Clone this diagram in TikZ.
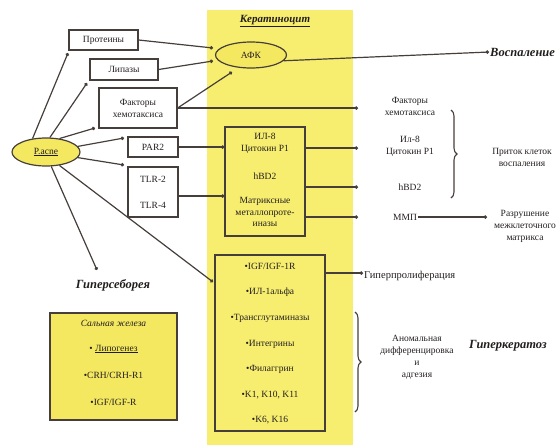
\documentclass[tikz,border=0pt]{standalone}
\usepackage{fontspec}
\setmainfont{Liberation Serif}
\usetikzlibrary{arrows.meta,decorations.pathreplacing,shapes.geometric}
\definecolor{colY}{RGB}{247,238,112}
\definecolor{colE}{RGB}{244,232,96}
\definecolor{colL}{RGB}{70,62,58}
\definecolor{colT}{RGB}{35,30,30}
\begin{document}
\begin{tikzpicture}[x=1pt,y=-1pt,
  font=\fontsize{9.5}{12}\selectfont, text=colT,
  line/.style={draw=colL, line width=1.2pt},
  arr/.style={line, -{Circle[length=3.4pt]}},
  box/.style={draw=colL, line width=1.2pt, inner sep=0pt, align=center},
  ell/.style={ellipse, draw=colL, line width=1.2pt, fill=colE, inner sep=0pt},
  lbl/.style={align=center, inner sep=1pt},
  ttl/.style={font=\fontsize{12.5}{14}\selectfont\bfseries\itshape, inner sep=1pt},
  brc/.style={draw=colL, line width=1.1pt, decorate, decoration={brace, amplitude=6pt}}
]
\useasboundingbox (0,0) rectangle (558,445);
\fill[colY] (207,10) rectangle (353,445);
\node[ttl, font=\fontsize{11}{13}\selectfont\bfseries\itshape] (kerat) at (275,21) {\underline{Кератиноцит}};

% left boxes
\node[box, minimum width=69pt, minimum height=20pt] (prot) at (103.5,40) {Протеины};
\node[box, minimum width=68pt, minimum height=21pt] (lip) at (124,69.5) {Липазы};
\node[box, minimum width=78pt, minimum height=40pt] (fakt) at (138,108) {Факторы\\хемотаксиса};
\node[box, minimum width=50pt, minimum height=20pt] (par) at (153,147) {PAR2};
\node[box, minimum width=50pt, minimum height=50pt] (tlr) at (153,192) {TLR-2\\[14pt]TLR-4};

\node[ell, minimum width=68pt, minimum height=28pt] (pacne) at (46,152) {\underline{P.acne}};
\node[ell, minimum width=71pt, minimum height=26pt] (afk) at (251,55) {АФК};

% keratinocyte boxes
\node[box, minimum width=80pt, minimum height=109pt] (il8) at (265,181.5) {};
\node[lbl] (il8t) at (265,143) {ИЛ-8\\Цитокин Р1};
\node[lbl] (hbd) at (265,176) {hBD2};
\node[lbl, font=\fontsize{9.5}{11.5}\selectfont] (mmpt) at (265,212) {Матриксные\\металлопроте-\\иназы};

\node[box, minimum width=110pt, minimum height=176pt] (low) at (270,343) {};
\node[lbl] (l1) at (270,266) {•IGF/IGF-1R};
\node[lbl] (l2) at (270,292) {•ИЛ-1альфа};
\node[lbl] (l3) at (270,318) {•Трансглутаминазы};
\node[lbl] (l4) at (270,344) {•Интегрины};
\node[lbl] (l5) at (270,369) {•Филаггрин};
\node[lbl] (l6) at (270,395) {•K1, K10, K11};
\node[lbl] (l7) at (270,420) {•K6, K16};

% sebaceous gland box
\node[box, fill=colE, minimum width=127pt, minimum height=107pt] (sal) at (113.5,366.5) {};
\node[lbl, font=\fontsize{9.5}{12}\selectfont\itshape] (s0) at (113.5,323) {Сальная железа};
\node[lbl] (s1) at (113.5,349) {• \underline{Липогенез}};
\node[lbl] (s2) at (113.5,375) {•CRH/CRH-R1};
\node[lbl] (s3) at (113.5,402) {•IGF/IGF-R};

% right texts
\node[lbl] (rfakt) at (410,106) {Факторы\\хемотаксиса};
\node[lbl] (ril8) at (410,146) {Ил-8\\Цитокин Р1};
\node[lbl] (rhbd) at (410,187) {hBD2};
\node[lbl] (rmmp) at (405,217) {ММП};
\node[lbl] (razr) at (525,226) {Разрушение\\межклеточного\\матрикса};
\node[lbl] (pritok) at (522,157) {Приток клеток\\воспаления};
\node[ttl, anchor=west] (vosp) at (489,52) {Воспаление};
\node[lbl, anchor=west, font=\fontsize{10.5}{12}\selectfont] (hpro) at (363,276) {Гиперпролиферация};
\node[lbl] (anom) at (417,357) {Аномальная\\дифференцировка\\и\\адгезия};
\node[ttl] (hkera) at (508,346) {Гиперкератоз};
\node[ttl] (hseb) at (113,285) {Гиперсеборея};

% braces
\draw[brc] (451,110) -- (451,198);
\draw[brc] (355,312) -- (355,412);

% free ends
\coordinate (cA1) at (213,48);
\coordinate (cA2) at (213,61);
\coordinate (cA3) at (232,72);
\coordinate (cF) at (358,108);
\coordinate (cI1) at (358,148);
\coordinate (cI2) at (358,187);
\coordinate (cI3) at (358,217);
\coordinate (cM) at (487,217);
\coordinate (cP1) at (68,53);
\coordinate (cP2) at (87,83);
\coordinate (cP3) at (95,128);
\coordinate (cP4) at (124,138);
\coordinate (cP5) at (124,165);
\coordinate (cP6) at (97,270);
\coordinate (cP7) at (213,282);

% connectors
\draw[arr] (prot.east) -- (cA1);
\draw[arr] (lip.east) -- (cA2);
\draw[arr] (fakt.east) -- (cA3);
\draw[arr] (fakt.east) -- (cF);
\draw[arr] (afk.-10) -- (vosp.west);
\draw[arr] (pacne.135) -- (cP1);
\draw[arr] (pacne.75) -- (cP2);
\draw[arr] (pacne.45) -- (cP3);
\draw[arr] (pacne.10) -- (cP4);
\draw[arr] (pacne.-10) -- (cP5);
\draw[arr] (pacne.-70) -- (cP6);
\draw[arr] (pacne.-45) -- (cP7);
\draw[arr] (par.east) -- (par.east -| il8.west);
\draw[arr] ([yshift=-4pt]tlr.east) -- ([yshift=-4pt]tlr.east -| il8.west);
\draw[arr] (il8.east |- cI1) -- (cI1);
\draw[arr] (il8.east |- cI2) -- (cI2);
\draw[arr] (il8.east |- cI3) -- (cI3);
\draw[arr] (rmmp.east) -- (cM);
\draw[arr] (low.east |- 0,273) -- (0,273 -| hpro.west);
\end{tikzpicture}
\end{document}
